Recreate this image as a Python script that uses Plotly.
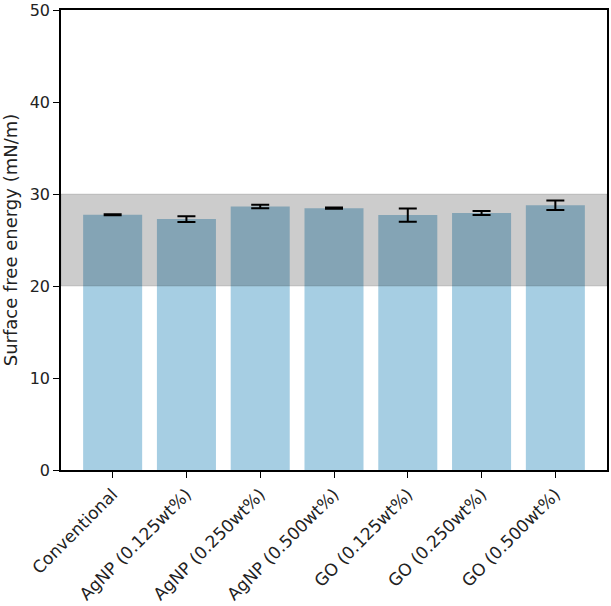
import plotly.graph_objects as go

categories = ["Conventional", "AgNP (0.125wt%)", "AgNP (0.250wt%)", "AgNP (0.500wt%)",
              "GO (0.125wt%)", "GO (0.250wt%)", "GO (0.500wt%)"]
values = [27.75, 27.28, 28.65, 28.47, 27.71, 27.93, 28.78]
errors = [0.06, 0.32, 0.2, 0.07, 0.72, 0.22, 0.52]
band_low, band_high = 20, 30
y_ticks = [0, 10, 20, 30, 40, 50]
y_min, y_max = 0, 50

x = list(range(len(categories)))

fig = go.Figure()
fig.add_trace(go.Bar(
    x=x, y=values, width=0.8,
    marker=dict(color="rgb(166,206,227)", line=dict(width=0)),
    error_y=dict(type="data", array=errors, visible=True, color="black",
                 thickness=2, width=9),
))
fig.add_shape(type="rect", xref="paper", yref="y", x0=0, x1=1,
              y0=band_low, y1=band_high,
              fillcolor="rgba(0,0,0,0.2)", line=dict(color="rgba(0,0,0,0.12)", width=1),
              layer="above")

fig.update_layout(
    width=611, height=606,
    margin=dict(l=61, r=4, t=10, b=136, autoexpand=False),
    paper_bgcolor="white", plot_bgcolor="white",
    showlegend=False,
    font=dict(family="DejaVu Sans", size=17, color="#222"),
    xaxis=dict(
        range=[-0.7, 6.7], tickmode="array", tickvals=x, ticktext=categories,
        tickangle=-45, ticks="outside", ticklen=6, tickwidth=1.2, tickcolor="black",
        showline=True, linecolor="black", linewidth=1.5, mirror=True,
        showgrid=False, zeroline=False, ticklabeloverflow="allow", automargin=False,
        tickfont=dict(size=17, family="DejaVu Sans", color="#222"),
    ),
    yaxis=dict(
        range=[y_min, y_max + 0.01], tickmode="array", tickvals=y_ticks,
        ticks="outside", ticklen=6, tickwidth=1.2, tickcolor="black",
        showline=True, linecolor="black", linewidth=1.5, mirror=True,
        showgrid=False, zeroline=False, ticklabeloverflow="allow", automargin=False,
        title=dict(text="Surface free energy (mN/m)", standoff=8,
                   font=dict(size=18, family="DejaVu Sans", color="#222")),
        tickfont=dict(size=16, family="DejaVu Sans", color="#222"),
    ),
)

fig.write_html("out.html")
